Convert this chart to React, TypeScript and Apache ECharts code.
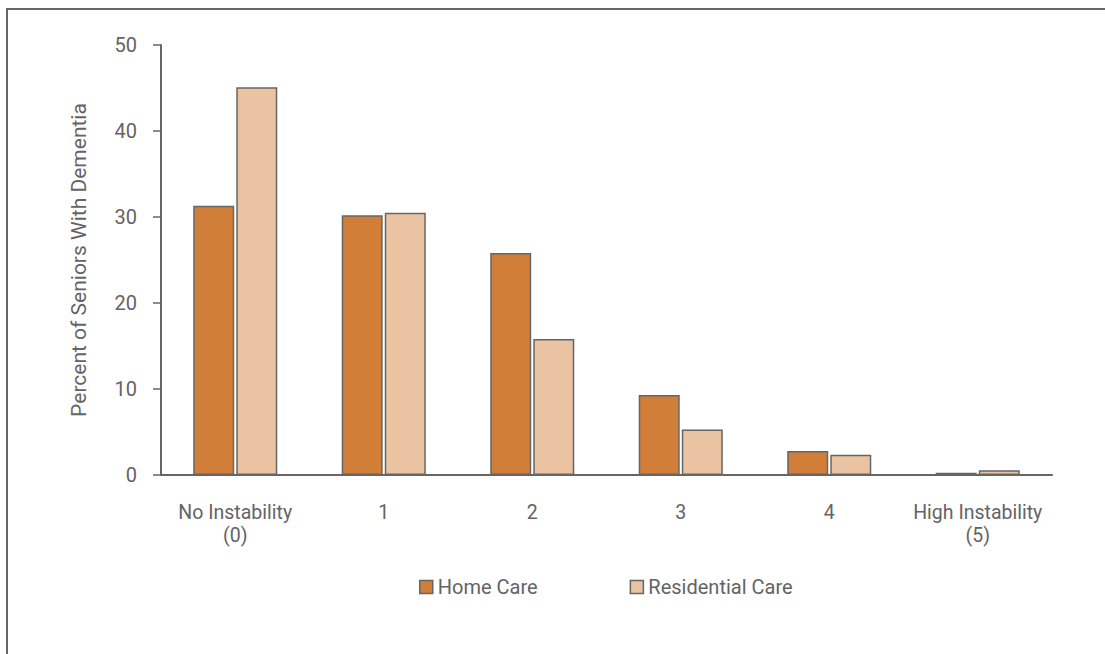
import React, { useEffect, useRef } from "react";
import * as echarts from "echarts";

const categories = ["No Instability\n(0)", "1", "2", "3", "4", "High Instability\n(5)"];
const homeCare = [31.3, 30.2, 25.8, 9.3, 2.8, 0.25];
const residentialCare = [45.1, 30.5, 15.8, 5.3, 2.35, 0.55];
const seriesNames = ["Home Care", "Residential Care"];
const yTicks = { min: 0, max: 50, interval: 10 };

const TEXT = "#646464";
const BORDER = "#666666";
const HOME = "#D17E38";
const RES = "#EAC3A3";
const FONT = "Roboto, 'Liberation Sans', sans-serif";

export default function App() {
  const ref = useRef<HTMLDivElement>(null);
  useEffect(() => {
    document.body.style.margin = "0";
    const chart = echarts.init(ref.current!, null, { renderer: "svg" });
    chart.setOption({
      animation: false,
      textStyle: { fontFamily: FONT, color: TEXT },
      grid: { left: 161, right: 53, top: 45, bottom: 179 },
      legend: {
        top: 572,
        left: 414,
        itemWidth: 13,
        itemHeight: 13,
        itemGap: 92,
        icon: "rect",
        textStyle: { fontSize: 20, color: TEXT, fontFamily: FONT },
        data: [
          { name: seriesNames[0], itemStyle: { color: HOME, borderColor: BORDER, borderWidth: 1.5 } },
          { name: seriesNames[1], itemStyle: { color: RES, borderColor: BORDER, borderWidth: 1.5 } },
        ],
      },
      xAxis: {
        type: "category",
        data: categories,
        axisLine: { show: true, lineStyle: { color: BORDER, width: 2 } },
        axisTick: { show: false },
        axisLabel: { interval: 0, color: TEXT, fontSize: 19.5, lineHeight: 23, margin: 26, fontFamily: FONT },
      },
      yAxis: {
        type: "value",
        min: yTicks.min,
        max: yTicks.max,
        interval: yTicks.interval,
        name: "Percent of Seniors With Dementia",
        nameLocation: "middle",
        nameGap: 72,
        nameTextStyle: { color: TEXT, fontSize: 21, fontFamily: FONT },
        axisLine: { show: true, lineStyle: { color: BORDER, width: 2 } },
        axisTick: { show: true, length: 8, lineStyle: { color: BORDER, width: 1.5 } },
        splitLine: { show: false },
        axisLabel: { color: TEXT, fontSize: 20, margin: 24, fontFamily: FONT },
      },
      series: [
        {
          name: seriesNames[0],
          type: "bar",
          data: homeCare,
          barWidth: 41,
          barGap: "5%",
          itemStyle: { color: HOME, borderColor: BORDER, borderWidth: 1.5 },
        },
        {
          name: seriesNames[1],
          type: "bar",
          data: residentialCare,
          barWidth: 41,
          barGap: "5%",
          itemStyle: { color: RES, borderColor: BORDER, borderWidth: 1.5 },
        },
      ],
    });
    return () => chart.dispose();
  }, []);
  return (
    <div style={{ position: "relative", width: 1105, height: 654, overflow: "hidden" }}>
      <div
        style={{
          position: "absolute",
          left: 6,
          top: 8,
          width: 1200,
          height: 700,
          borderTop: `2px solid ${BORDER}`,
          borderLeft: `2px solid ${BORDER}`,
          boxSizing: "border-box",
        }}
      />
      <div ref={ref} style={{ position: "absolute", left: 0, top: 0, width: 1105, height: 654 }} />
    </div>
  );
}
